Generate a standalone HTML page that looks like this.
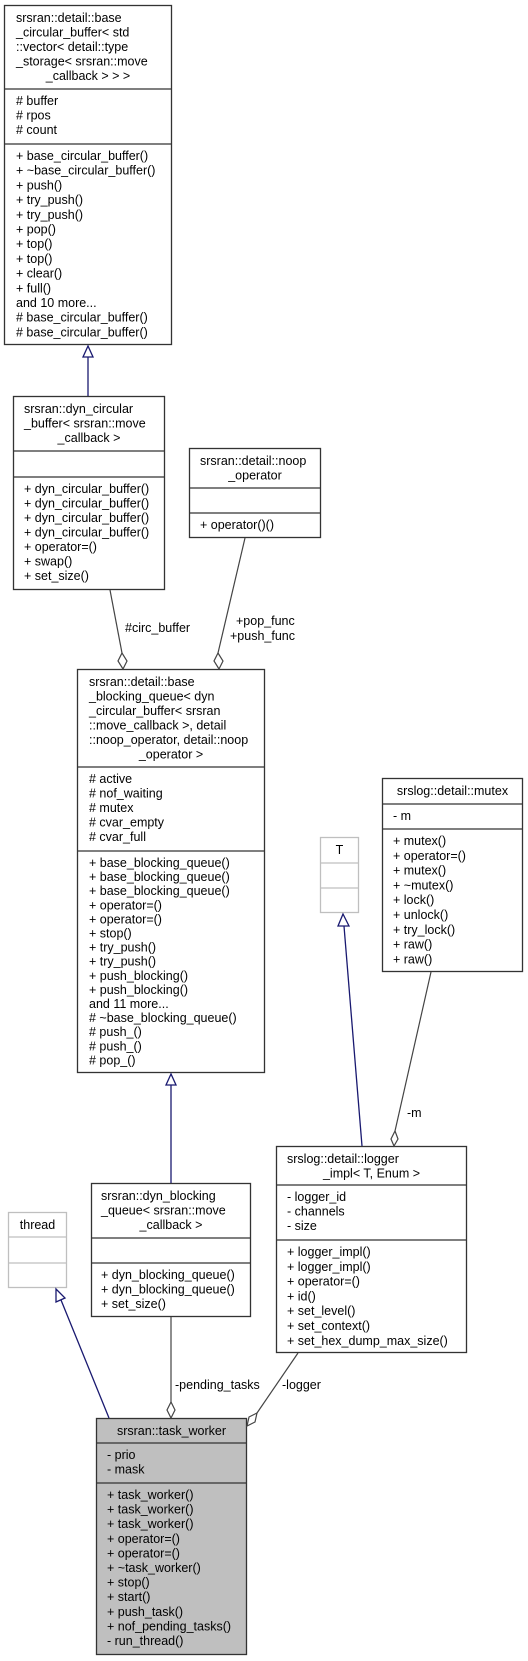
<!DOCTYPE html>
<html><head><meta charset="utf-8"><style>
html,body{margin:0;padding:0;background:#fff;}
svg{display:block;}
text{font-family:"Liberation Sans",Arial,sans-serif;font-size:12.5px;fill:#000;}
.c{text-anchor:middle;}
</style></head><body>
<svg width="528" height="1661" viewBox="0 0 528 1661" xmlns="http://www.w3.org/2000/svg">
<g fill="#fff" stroke="#333" stroke-width="1.3">
<rect x="4.5" y="5.5" width="167" height="339"/>
<line x1="4.5" y1="89" x2="171.5" y2="89"/><line x1="4.5" y1="144" x2="171.5" y2="144"/>
<rect x="13.5" y="396.5" width="151" height="193"/>
<line x1="13.5" y1="451" x2="164.5" y2="451"/><line x1="13.5" y1="477" x2="164.5" y2="477"/>
<rect x="189.5" y="448.5" width="131" height="89"/>
<line x1="189.5" y1="488" x2="320.5" y2="488"/><line x1="189.5" y1="513" x2="320.5" y2="513"/>
<rect x="77.5" y="669.5" width="187" height="403"/>
<line x1="77.5" y1="767" x2="264.5" y2="767"/><line x1="77.5" y1="851" x2="264.5" y2="851"/>
<rect x="382.5" y="778.5" width="140" height="193"/>
<line x1="382.5" y1="804" x2="522.5" y2="804"/><line x1="382.5" y1="829" x2="522.5" y2="829"/>
<rect x="276.5" y="1146.5" width="190" height="206"/>
<line x1="276.5" y1="1185" x2="466.5" y2="1185"/><line x1="276.5" y1="1240" x2="466.5" y2="1240"/>
<rect x="91.5" y="1183.5" width="159" height="133"/>
<line x1="91.5" y1="1238" x2="250.5" y2="1238"/><line x1="91.5" y1="1263" x2="250.5" y2="1263"/>
<rect x="96.5" y="1418.5" width="150" height="236" fill="#bfbfbf"/>
<line x1="96.5" y1="1443" x2="246.5" y2="1443"/><line x1="96.5" y1="1483" x2="246.5" y2="1483"/>
</g>
<g fill="#fff" stroke="#bfbfbf" stroke-width="1.3">
<rect x="320.5" y="837.5" width="38" height="75"/>
<line x1="320.5" y1="863" x2="358.5" y2="863"/><line x1="320.5" y1="888" x2="358.5" y2="888"/>
<rect x="8.5" y="1212.5" width="58" height="75"/>
<line x1="8.5" y1="1237" x2="66.5" y2="1237"/><line x1="8.5" y1="1263" x2="66.5" y2="1263"/>
</g>
<g stroke="#191970" stroke-width="1.3" fill="#fff">
<line x1="88" y1="357" x2="88" y2="396"/><polygon points="88,346 83,357 93,357"/>
<line x1="171" y1="1085" x2="171" y2="1183"/><polygon points="171,1074 166,1085 176,1085"/>
<line x1="344" y1="926" x2="362" y2="1146"/><polygon points="343,914 338,926 349,926"/>
<line x1="61" y1="1300" x2="109" y2="1418"/><polygon points="56,1289 56,1302 65,1298"/>
</g>
<g stroke="#444" stroke-width="1.2" fill="#fff">
<line x1="110" y1="590" x2="122" y2="653"/><polygon points="123,669 127,661 122,653 118,661"/>
<line x1="245" y1="538" x2="218" y2="653"/><polygon points="219,669 223,661 218,653 214,661"/>
<line x1="431" y1="972" x2="395" y2="1131"/><polygon points="394,1146 398,1139 395,1131 391,1139"/>
<line x1="171" y1="1317" x2="171" y2="1402"/><polygon points="171,1418 175,1410 171,1402 167,1410"/>
<line x1="298" y1="1353" x2="257" y2="1413"/><polygon points="247,1426 249,1417 257,1413 255,1422"/>
</g>
<text x="125" y="632">#circ_buffer</text>
<text x="236" y="625">+pop_func</text>
<text x="230" y="640">+push_func</text>
<text x="407" y="1117">-m</text>
<text x="175" y="1389">-pending_tasks</text>
<text x="282" y="1389">-logger</text>
<text x="16" y="22">srsran::detail::base</text><text x="16" y="36.5">_circular_buffer&lt; std</text><text x="16" y="51">::vector&lt; detail::type</text><text x="16" y="65.5">_storage&lt; srsran::move</text><text class="c" x="88" y="80">_callback &gt; &gt; &gt;</text>
<text x="16" y="105"># buffer</text><text x="16" y="119.5"># rpos</text><text x="16" y="134"># count</text>
<text x="16" y="160">+ base_circular_buffer()</text><text x="16" y="174.7">+ ~base_circular_buffer()</text><text x="16" y="189.4">+ push()</text><text x="16" y="204.1">+ try_push()</text><text x="16" y="218.8">+ try_push()</text><text x="16" y="233.5">+ pop()</text><text x="16" y="248.2">+ top()</text><text x="16" y="262.9">+ top()</text><text x="16" y="277.6">+ clear()</text><text x="16" y="292.3">+ full()</text><text x="16" y="307">and 10 more...</text><text x="16" y="321.7"># base_circular_buffer()</text><text x="16" y="336.4"># base_circular_buffer()</text>
<text x="24" y="413">srsran::dyn_circular</text><text x="24" y="427.5">_buffer&lt; srsran::move</text><text class="c" x="89" y="442">_callback &gt;</text>
<text x="24" y="493">+ dyn_circular_buffer()</text><text x="24" y="507.5">+ dyn_circular_buffer()</text><text x="24" y="522">+ dyn_circular_buffer()</text><text x="24" y="536.5">+ dyn_circular_buffer()</text><text x="24" y="551">+ operator=()</text><text x="24" y="565.5">+ swap()</text><text x="24" y="580">+ set_size()</text>
<text x="200" y="465">srsran::detail::noop</text><text class="c" x="255" y="479.5">_operator</text>
<text x="200" y="529">+ operator()()</text>
<text x="89" y="686">srsran::detail::base</text><text x="89" y="700.5">_blocking_queue&lt; dyn</text><text x="89" y="715">_circular_buffer&lt; srsran</text><text x="89" y="729.5">::move_callback &gt;, detail</text><text x="89" y="744">::noop_operator, detail::noop</text><text class="c" x="171" y="758.5">_operator &gt;</text>
<text x="89" y="783"># active</text><text x="89" y="797.5"># nof_waiting</text><text x="89" y="812"># mutex</text><text x="89" y="826.5"># cvar_empty</text><text x="89" y="841"># cvar_full</text>
<text x="89" y="867">+ base_blocking_queue()</text><text x="89" y="881.1">+ base_blocking_queue()</text><text x="89" y="895.2">+ base_blocking_queue()</text><text x="89" y="909.3">+ operator=()</text><text x="89" y="923.4">+ operator=()</text><text x="89" y="937.5">+ stop()</text><text x="89" y="951.6">+ try_push()</text><text x="89" y="965.7">+ try_push()</text><text x="89" y="979.8">+ push_blocking()</text><text x="89" y="993.9">+ push_blocking()</text><text x="89" y="1008">and 11 more...</text><text x="89" y="1022.1"># ~base_blocking_queue()</text><text x="89" y="1036.2"># push_()</text><text x="89" y="1050.3"># push_()</text><text x="89" y="1064.4"># pop_()</text>
<text class="c" x="339.5" y="854">T</text>
<text class="c" x="452.5" y="795">srslog::detail::mutex</text>
<text x="393" y="820">- m</text>
<text x="393" y="845">+ mutex()</text><text x="393" y="859.8">+ operator=()</text><text x="393" y="874.6">+ mutex()</text><text x="393" y="889.4">+ ~mutex()</text><text x="393" y="904.2">+ lock()</text><text x="393" y="919">+ unlock()</text><text x="393" y="933.8">+ try_lock()</text><text x="393" y="948.6">+ raw()</text><text x="393" y="963.4">+ raw()</text>
<text x="287" y="1163">srslog::detail::logger</text><text class="c" x="371.5" y="1177.5">_impl&lt; T, Enum &gt;</text>
<text x="287" y="1201">- logger_id</text><text x="287" y="1215.5">- channels</text><text x="287" y="1230">- size</text>
<text x="287" y="1256">+ logger_impl()</text><text x="287" y="1270.8">+ logger_impl()</text><text x="287" y="1285.6">+ operator=()</text><text x="287" y="1300.4">+ id()</text><text x="287" y="1315.2">+ set_level()</text><text x="287" y="1330">+ set_context()</text><text x="287" y="1344.8">+ set_hex_dump_max_size()</text>
<text x="101" y="1200">srsran::dyn_blocking</text><text x="101" y="1214.5">_queue&lt; srsran::move</text><text class="c" x="171" y="1229">_callback &gt;</text>
<text x="101" y="1279">+ dyn_blocking_queue()</text><text x="101" y="1293.5">+ dyn_blocking_queue()</text><text x="101" y="1308">+ set_size()</text>
<text class="c" x="37.5" y="1229">thread</text>
<text class="c" x="171.5" y="1435">srsran::task_worker</text>
<text x="107" y="1459">- prio</text><text x="107" y="1473.5">- mask</text>
<text x="107" y="1499">+ task_worker()</text><text x="107" y="1513.6">+ task_worker()</text><text x="107" y="1528.2">+ task_worker()</text><text x="107" y="1542.8">+ operator=()</text><text x="107" y="1557.4">+ operator=()</text><text x="107" y="1572">+ ~task_worker()</text><text x="107" y="1586.6">+ stop()</text><text x="107" y="1601.2">+ start()</text><text x="107" y="1615.8">+ push_task()</text><text x="107" y="1630.4">+ nof_pending_tasks()</text><text x="107" y="1645">- run_thread()</text>
</svg>
</body></html>
